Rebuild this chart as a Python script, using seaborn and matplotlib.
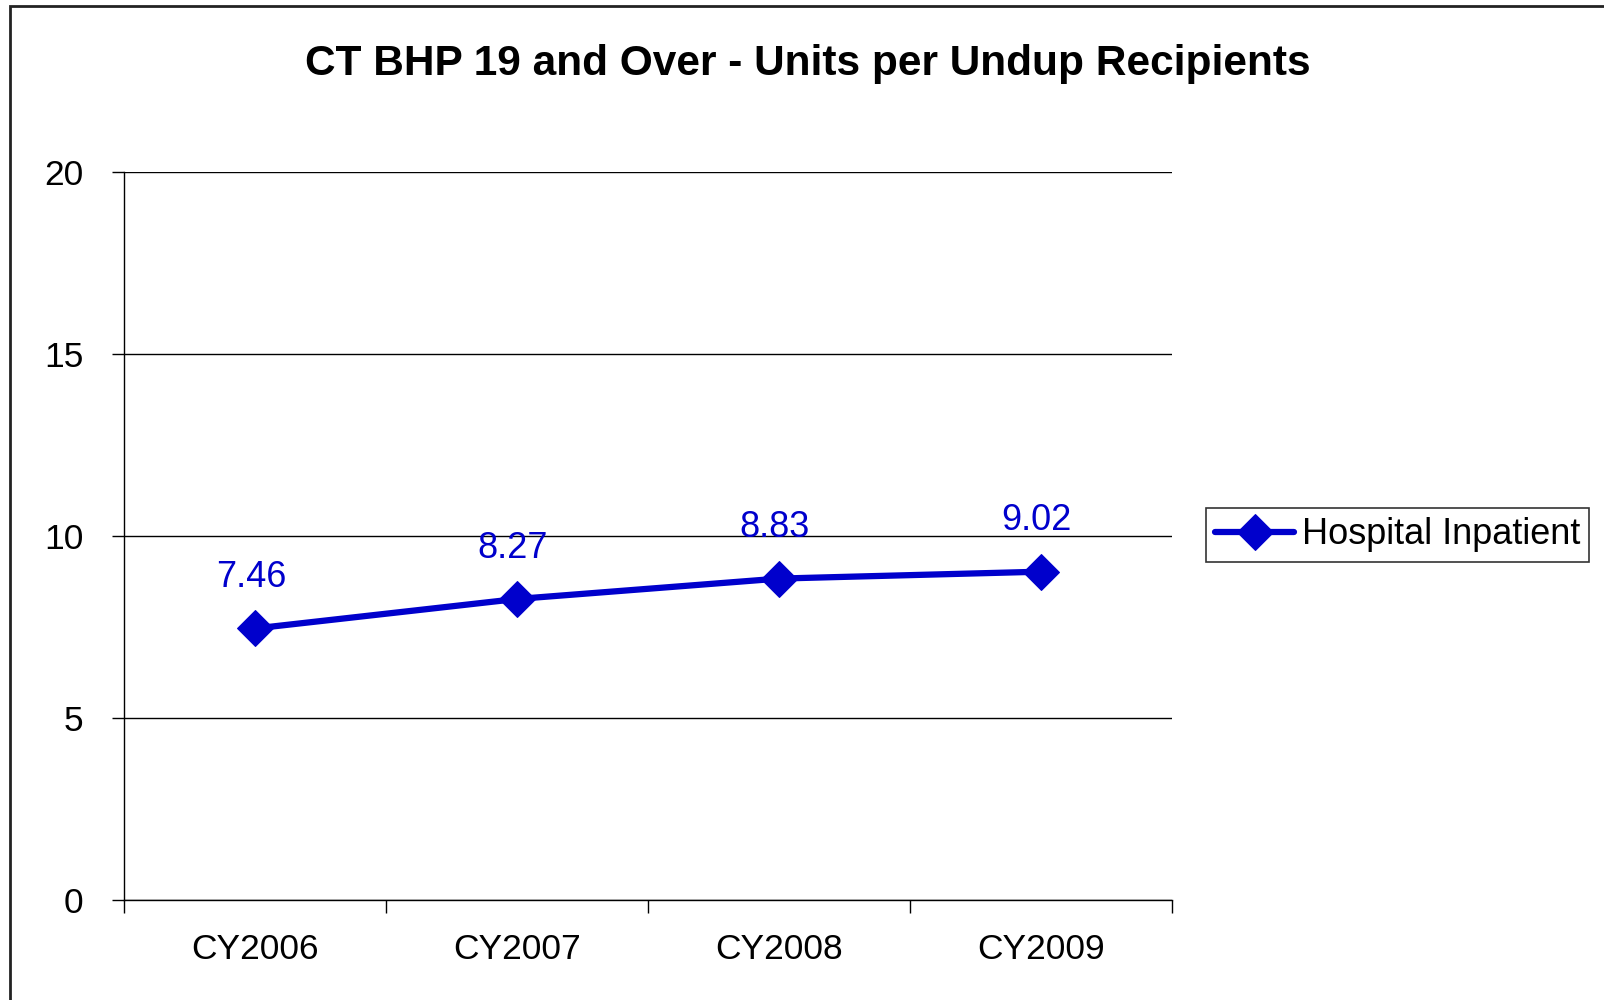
import matplotlib
matplotlib.use("Agg")
import matplotlib.pyplot as plt
import seaborn as sns
import pandas as pd
from matplotlib.patches import Rectangle

years = ["CY2006", "CY2007", "CY2008", "CY2009"]
values = [7.46, 8.27, 8.83, 9.02]
series_name = "Hospital Inpatient"
title = "CT BHP 19 and Over - Units per Undup Recipients"

df = pd.DataFrame({"Year": years, "Value": values, "x": range(len(years))})

sns.set_style("white")
plt.rcParams["font.family"] = ["Liberation Sans", "DejaVu Sans"]
plt.rcParams["text.color"] = "black"
plt.rcParams["xtick.color"] = "black"
plt.rcParams["ytick.color"] = "black"

blue = "#0000CC"

fig = plt.figure(figsize=(16.04, 10), dpi=100)
ax = fig.add_axes([124 / 1604, 1 - 900 / 1000, (1172 - 124) / 1604, (900 - 172) / 1000])

sns.lineplot(data=df, x="x", y="Value", ax=ax, color=blue, linewidth=4.5,
             marker="D", markersize=18, markeredgecolor=blue, label=series_name)

for xi, v in zip(df["x"], df["Value"]):
    ax.annotate(f"{v:.2f}", (xi, v), xytext=(-3, 24), textcoords="offset points",
                ha="center", va="bottom", fontsize=26, color=blue)

ax.set_xlim(-0.5, len(years) - 0.5)
ax.set_ylim(0, 20)
ax.set_yticks([0, 5, 10, 15, 20])
ax.set_xticks(range(len(years)))
ax.set_xticklabels(years)
ax.set_xticks([i - 0.5 for i in range(len(years) + 1)], minor=True)
ax.tick_params(axis="x", which="major", bottom=True, length=0, labelsize=25.5, pad=24)
ax.tick_params(axis="x", which="minor", bottom=True, length=9, width=1, color="black", direction="out")
ax.tick_params(axis="y", left=True, length=9, width=1, color="black", direction="out",
               labelsize=25.5, pad=20)
ax.set_xlabel("")
ax.set_ylabel("")
ax.yaxis.grid(True, color="black", linewidth=1)
ax.set_axisbelow(True)
for side in ["top", "right"]:
    ax.spines[side].set_visible(False)
for side in ["left", "bottom"]:
    ax.spines[side].set_color("black")
    ax.spines[side].set_linewidth(1)

leg = ax.legend(loc="center left", bbox_to_anchor=(1084 / 1048 - 0.002, (900 - 535) / 728),
                fontsize=26, frameon=True, fancybox=False, borderpad=0.25,
                handlelength=2.2, handletextpad=0.2, borderaxespad=0)
leg.get_frame().set_edgecolor("black")
leg.get_frame().set_linewidth(1.2)

fig.text(0.5 + 6 / 1604, 1 - 64 / 1000, title, ha="center", va="center", fontsize=30.5,
         fontweight="bold")

fig.patches.append(Rectangle((10 / 1604, -0.1), 1.2, 1.1 - 6 / 1000, transform=fig.transFigure,
                             fill=False, edgecolor="#222222", linewidth=2))

fig.savefig("out.png", dpi=100)
